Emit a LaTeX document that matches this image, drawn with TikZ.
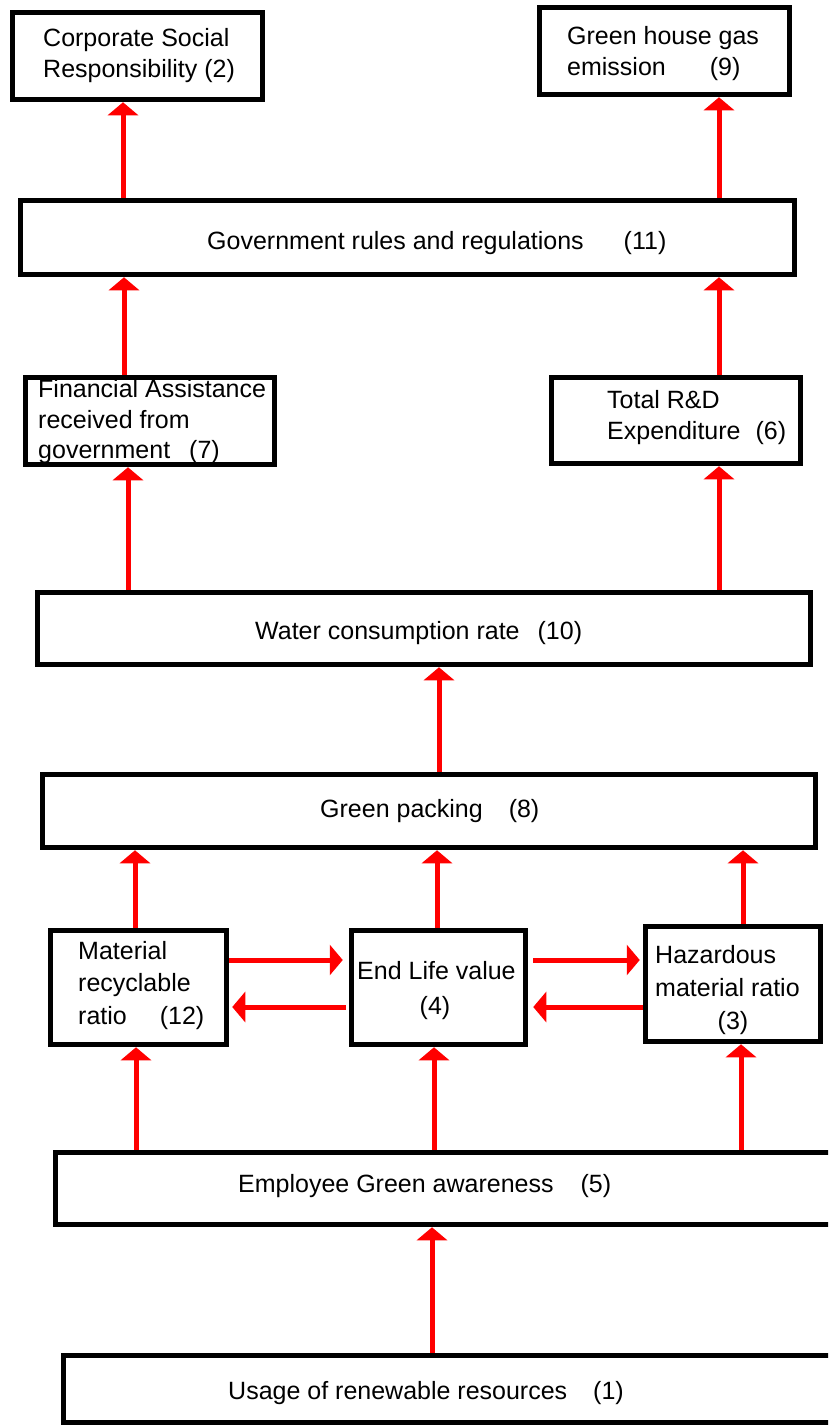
\documentclass[tikz,border=0pt]{standalone}
\usepackage{fontspec}
\setmainfont{Liberation Sans}
\usetikzlibrary{arrows.meta}
\begin{document}
\begin{tikzpicture}[x=1pt,y=-1pt,
  box/.style={draw=black, line width=5.5pt, fill=white, inner sep=0pt, rectangle},
  txt/.style={inner sep=0pt, text=black, font=\fontsize{25}{31}\selectfont},
  arr/.style={draw=red, line width=5pt, -{Triangle[width=30pt,length=13pt]}}]
\useasboundingbox (0,0) rectangle (828,1428);
\clip (0,0) rectangle (828,1428);
\fill[white] (0,0) rectangle (828,1428);
% boxes
\node[box, minimum width=250pt, minimum height=87pt] (csr) at (137.5,56) {};
\node[box, minimum width=250pt, minimum height=87pt] (ghg) at (664.5,51) {};
\node[box, minimum width=774pt, minimum height=74pt] (gov) at (407.5,237.5) {};
\node[box, minimum width=249pt, minimum height=87pt] (fa) at (150,421) {};
\node[box, minimum width=249pt, minimum height=86pt] (rd) at (676,420.5) {};
\node[box, minimum width=773pt, minimum height=72pt] (wat) at (424,628.5) {};
\node[box, minimum width=773pt, minimum height=73pt] (gp) at (429,811) {};
\node[box, minimum width=176pt, minimum height=114pt] (mat) at (138.5,987.5) {};
\node[box, minimum width=174pt, minimum height=114pt] (end) at (438.5,987.5) {};
\node[box, minimum width=175pt, minimum height=115pt] (haz) at (733,984) {};
\node[box, minimum width=790pt, minimum height=72pt] (emp) at (450.5,1188.5) {};
\node[box, minimum width=780pt, minimum height=67pt] (use) at (453.5,1389) {};
% texts
\node[txt, anchor=base west] (csr1) at (43,46) {Corporate Social};
\node[txt, anchor=base west] (csr2) at (43,77) {Responsibility (2)};
\node[txt, anchor=base west] (ghg1) at (567,44) {Green house gas};
\node[txt, anchor=base west] (ghg2) at (567,75) {emission\hspace{44pt}(9)};
\node[txt, anchor=base west] (gov1) at (207,249) {Government rules and regulations\hspace{40pt}(11)};
\node[txt, anchor=base west] (fa1) at (38,397) {Financial Assistance};
\node[txt, anchor=base west] (fa2) at (38,428) {received from};
\node[txt, anchor=base west] (fa3) at (38,458) {government\hspace{19pt}(7)};
\node[txt, anchor=base west] (rd1) at (607,408) {Total R\&D};
\node[txt, anchor=base west] (rd2) at (607,439) {Expenditure\hspace{15pt}(6)};
\node[txt, anchor=base west] (wat1) at (255,639) {Water consumption rate\hspace{18pt}(10)};
\node[txt, anchor=base west] (gp1) at (320,817) {Green packing\hspace{26pt}(8)};
\node[txt, anchor=base west] (mat1) at (78,959) {Material};
\node[txt, anchor=base west] (mat2) at (78,991) {recyclable};
\node[txt, anchor=base west] (mat3) at (78,1024) {ratio\hspace{33pt}(12)};
\node[txt, anchor=base west] (end1) at (357,979) {End Life value};
\node[txt, anchor=base] (end2) at (435,1014) {(4)};
\node[txt, anchor=base west] (haz1) at (655,963) {Hazardous};
\node[txt, anchor=base west] (haz2) at (655,996) {material ratio};
\node[txt, anchor=base] (haz3) at (733,1029) {(3)};
\node[txt, anchor=base west] (emp1) at (238,1192) {Employee Green awareness\hspace{27pt}(5)};
\node[txt, anchor=base west] (use1) at (228,1399) {Usage of renewable resources\hspace{26pt}(1)};
% arrows
\draw[arr] (gov.north -| 123,0) -- (csr.south -| 123,0);
\draw[arr] (gov.north -| 719,0) -- (ghg.south -| 719,0);
\draw[arr] (fa.north -| 124,0) -- (gov.south -| 124,0);
\draw[arr] (rd.north -| 719,0) -- (gov.south -| 719,0);
\draw[arr] (wat.north -| 128,0) -- (fa.south -| 128,0);
\draw[arr] (wat.north -| 719,0) -- (rd.south -| 719,0);
\draw[arr] (gp.north -| 439,0) -- (wat.south -| 439,0);
\draw[arr] (mat.north -| 135,0) -- (gp.south -| 135,0);
\draw[arr] (end.north -| 437,0) -- (gp.south -| 437,0);
\draw[arr] (haz.north -| 743,0) -- (gp.south -| 743,0);
\draw[arr, shorten >=6pt] (mat.east |- 0,960) -- (end.west |- 0,960);
\draw[arr, shorten <=3pt, shorten >=3pt] (end.west |- 0,1007) -- (mat.east |- 0,1007);
\draw[arr, shorten <=5pt, shorten >=3pt] (end.east |- 0,960) -- (haz.west |- 0,960);
\draw[arr, shorten >=5pt] (haz.west |- 0,1007) -- (end.east |- 0,1007);
\draw[arr] (emp.north -| 136,0) -- (mat.south -| 136,0);
\draw[arr] (emp.north -| 434,0) -- (end.south -| 434,0);
\draw[arr] (emp.north -| 741,0) -- (haz.south -| 741,0);
\draw[arr] (use.north -| 432,0) -- (emp.south -| 432,0);
\end{tikzpicture}
\end{document}
